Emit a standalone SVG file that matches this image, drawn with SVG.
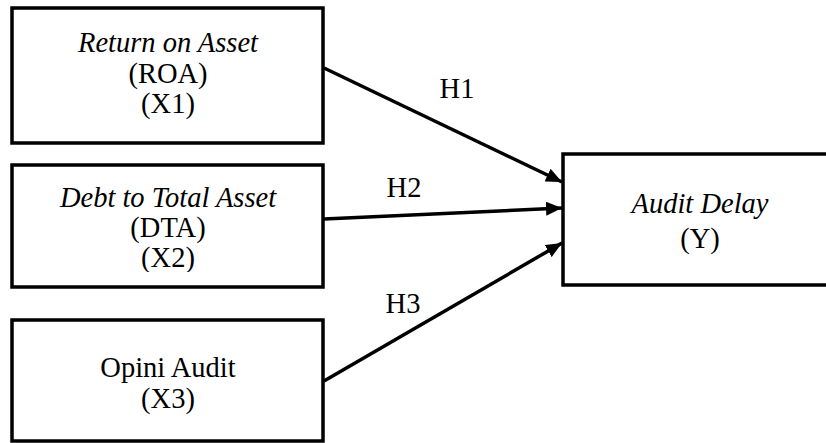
<svg xmlns="http://www.w3.org/2000/svg" width="826" height="443" viewBox="0 0 826 443">
<style>
.box{fill:#fff;stroke:#000;stroke-width:3.5}
.t{font-family:'Liberation Serif','Times New Roman',serif;font-size:28.5px;fill:#000;text-anchor:middle}
.i{font-style:italic}
.c{stroke:#000;stroke-width:3.5;fill:none}
</style>
<defs>
<marker id="ah" markerUnits="userSpaceOnUse" markerWidth="18" markerHeight="14" refX="16" refY="7" orient="auto">
<path d="M0,0 L16,7 L0,14 Z" fill="#000"/>
</marker>
<clipPath id="clip2"><rect x="0" y="160" width="340" height="112"/></clipPath>
</defs>
<rect width="826" height="443" fill="#fff"/>
<g id="n1">
<rect class="box" x="12" y="8" width="311" height="135"/>
<text class="t i" x="168" y="52">Return on Asset</text>
<text class="t" x="168" y="83">(ROA)</text>
<text class="t" x="168" y="113">(X1)</text>
</g>
<g id="n2">
<rect class="box" x="12" y="165" width="311" height="122"/>
<text class="t i" x="168" y="207">Debt to Total Asset</text>
<text class="t" x="168" y="237">(DTA)</text>
<text class="t" x="168" y="267" clip-path="url(#clip2)">(X2)</text>
</g>
<g id="n3">
<rect class="box" x="12" y="320" width="311" height="121"/>
<text class="t" x="168" y="377">Opini Audit</text>
<text class="t" x="168" y="408">(X3)</text>
</g>
<g id="ny">
<rect class="box" x="563" y="154" width="290" height="131"/>
<text class="t i" x="700" y="213">Audit Delay</text>
<text class="t" x="700" y="248">(Y)</text>
</g>
<g id="connectors">
<line class="c" x1="324" y1="68" x2="562" y2="182" marker-end="url(#ah)"/>
<line class="c" x1="324" y1="219" x2="562" y2="208" marker-end="url(#ah)"/>
<line class="c" x1="324" y1="381" x2="562" y2="243" marker-end="url(#ah)"/>
<text class="t" x="457" y="98">H1</text>
<text class="t" x="404" y="197">H2</text>
<text class="t" x="403" y="313">H3</text>
</g>
</svg>
